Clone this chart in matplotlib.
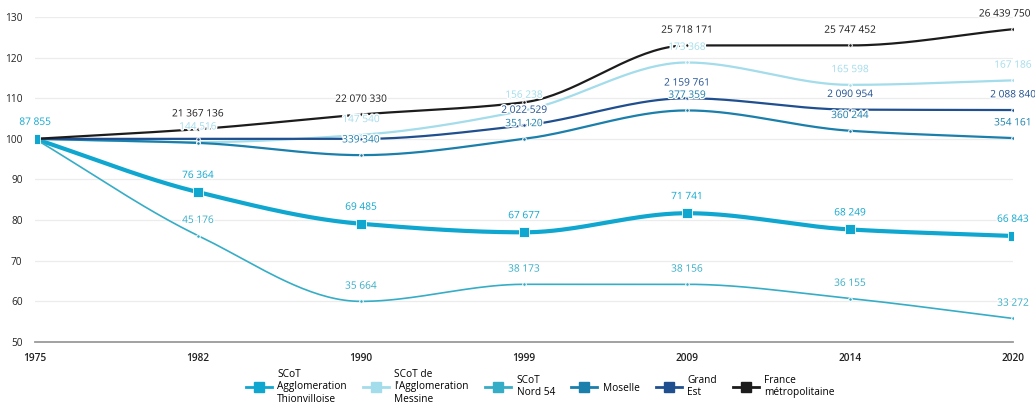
"""
Population index (base 100 in 1975) for the SCoT areas and reference territories.
"""

import matplotlib

matplotlib.use("Agg")  # no display
import matplotlib.pyplot as plt
import matplotlib.patheffects as pe
from matplotlib.lines import Line2D
import numpy as np

plt.rcParams["font.family"] = ["Open Sans", "DejaVu Sans"]

years = ["1975", "1982", "1990", "1999", "2009", "2014", "2020"]

# index values (1975 = 100)
idx_thionville = [100, 86.9, 79.1, 77.0, 81.7, 77.7, 76.1]
idx_messine = [100, 99.2, 101.0, 107.0, 118.8, 113.3, 114.4]
idx_nord54 = [100, 76.2, 60.0, 64.2, 64.2, 60.7, 55.8]
idx_moselle = [100, 99.0, 96.0, 100.0, 107.0, 102.0, 100.2]
idx_grandest = [100, 100.0, 100.0, 103.3, 110.0, 107.2, 107.1]
idx_france = [100, 102.4, 106.0, 109.0, 123.0, 123.0, 127.0]

# population labels shown next to the points (None = no label)
pop_thionville = [87855, 76364, 69485, 67677, 71741, 68249, 66843]
pop_messine = [None, 144516, 147540, 156238, 173368, 165598, 167186]
pop_nord54 = [None, 45176, 35664, 38173, 38156, 36155, 33272]
pop_moselle = [None, None, 339340, 351120, 377359, 360244, 354161]
pop_grandest = [None, None, None, 2022529, 2159761, 2090954, 2088840]
pop_france = [None, 21367136, 22070330, None, 25718171, 25747452, 26439750]

names = [
    "SCoT\nAgglomeration\nThionvilloise",
    "SCoT de\nl'Agglomeration\nMessine",
    "SCoT\nNord 54",
    "Moselle",
    "Grand\nEst",
    "France\nmétropolitaine",
]
colors = ["#0fa7cf", "#a3dcea", "#36adc6", "#1a7fab", "#1f4f8f", "#1c1c1c"]
widths = [3.0, 1.6, 1.2, 1.6, 1.6, 1.6]


def monotone_curve(x, y, n=40):
    """Monotone cubic (Fritsch-Carlson) so the line passes through every point."""
    x = np.asarray(x, float)
    y = np.asarray(y, float)
    h = np.diff(x)
    d = np.diff(y) / h
    m = np.zeros_like(y)
    m[0], m[-1] = d[0], d[-1]
    for i in range(1, len(y) - 1):
        if d[i - 1] * d[i] <= 0:
            m[i] = 0
        else:
            w1 = 2 * h[i] + h[i - 1]
            w2 = h[i] + 2 * h[i - 1]
            m[i] = (w1 + w2) / (w1 / d[i - 1] + w2 / d[i])
    xs, ys = [], []
    for i in range(len(x) - 1):
        t = np.linspace(0, 1, n)
        h00 = 2 * t**3 - 3 * t**2 + 1
        h10 = t**3 - 2 * t**2 + t
        h01 = -2 * t**3 + 3 * t**2
        h11 = t**3 - t**2
        xs.append(x[i] + t * h[i])
        ys.append(h00 * y[i] + h10 * h[i] * m[i] + h01 * y[i + 1] + h11 * h[i] * m[i + 1])
    return np.concatenate(xs), np.concatenate(ys)


def fmt(v):
    return f"{v:,}".replace(",", " ")


fig = plt.figure(figsize=(10.35, 4.04), dpi=100)
ax = fig.add_axes([35 / 1035, 1 - 342 / 404, 978 / 1035, 325 / 404])

xpos = np.arange(len(years))
series = [
    (idx_thionville, pop_thionville),
    (idx_messine, pop_messine),
    (idx_nord54, pop_nord54),
    (idx_moselle, pop_moselle),
    (idx_grandest, pop_grandest),
    (idx_france, pop_france),
]

# draw back to front so the thick Thionville line sits on top
order = [2, 1, 3, 4, 5, 0]
for k in order:
    vals, pops = series[k]
    col = colors[k]
    xs, ys = monotone_curve(xpos, vals)
    ax.plot(xs, ys, color=col, lw=widths[k], solid_capstyle="round", zorder=3 + k * 0.1)
    if k == 0:
        ax.plot(xpos, vals, ls="none", marker="s", ms=6.5, color=col,
                mec="white", mew=0.6, zorder=5)
    else:
        ax.plot(xpos, vals, ls="none", marker="o", ms=2.6, color=col,
                mec="white", mew=0.7, zorder=4)
    for i, (xi, v, p) in enumerate(zip(xpos, vals, pops)):
        if p is None:
            continue
        dx = -6 if (i == len(years) - 1 and k == 5) else 0
        ax.annotate(fmt(p), (xi, v), xytext=(dx, 7 if k else 8),
                    textcoords="offset points", ha="center", va="bottom",
                    fontsize=7.3, color=col, zorder=6, annotation_clip=False,
                    path_effects=[pe.withStroke(linewidth=2, foreground="white")])

ax.set_xlim(0, len(years) - 1)
ax.set_ylim(50, 130)
ax.set_yticks(range(50, 131, 10))
ax.set_xticks(xpos)
ax.set_xticklabels(years, fontsize=7.3, fontweight="semibold", color="#222222")
ax.tick_params(axis="y", labelsize=7.3, labelcolor="#222222", length=0, pad=9)
ax.tick_params(axis="x", length=0, pad=8)
ax.grid(axis="y", color="#ececec", lw=0.9)
ax.set_axisbelow(True)
for side in ["top", "right", "left"]:
    ax.spines[side].set_visible(False)
ax.spines["bottom"].set_color("#9a9a9a")
ax.spines["bottom"].set_linewidth(1.3)

handles = [Line2D([], [], color=c, lw=2, marker="s", ms=7) for c in colors]
fig.legend(handles, names, loc="center", bbox_to_anchor=(0.522, 0.043),
           ncol=6, frameon=False, fontsize=7.3, handlelength=2.6,
           handletextpad=0.5, columnspacing=1.6, labelspacing=0.2,
           borderpad=0.1)

fig.savefig("out.png", dpi=100)
plt.close(fig)
